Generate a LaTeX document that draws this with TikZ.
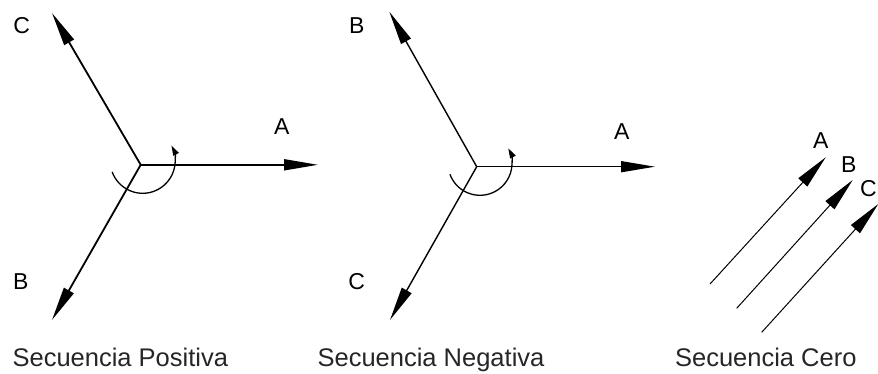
\documentclass[tikz,border=0pt]{standalone}
\usepackage{fontspec}
\setmainfont{Liberation Sans}
\usetikzlibrary{arrows.meta,calc}
\begin{document}
\begin{tikzpicture}[x=1pt,y=1pt,
  vec/.style={line width=1.8pt,-{Triangle[length=34pt,width=11pt]}},
  vecthin/.style={line width=1.4pt,-{Triangle[length=34pt,width=11pt]}},
  zvec/.style={line width=1pt,-{Triangle[length=34pt,width=12pt]}},
  rot/.style={line width=1.3pt,-{Triangle[length=10pt,width=6pt]}},
  lbl/.style={inner sep=0pt,font=\fontsize{23}{23}\selectfont},
  captxt/.style={inner sep=0pt,anchor=base,text=black!85,font=\fontsize{25.5}{26}\selectfont}]
\useasboundingbox (0,0) rectangle (878,-374);
\clip (0,0) rectangle (878,-374);
% Secuencia Positiva
\coordinate (O1) at (140.7,-164.8);
\coordinate (A1) at (318,-164.8);
\coordinate (C1) at (52,-13);
\coordinate (B1) at (52,-320);
\coordinate (R1) at ($(O1)+(2,4)+(200:32.5)$);
\draw[vec] (O1) -- (A1);
\draw[vec] (O1) -- (C1);
\draw[vec] (O1) -- (B1);
\draw[rot] (R1) arc[start angle=200,end angle=388,radius=32.5];
\node[lbl] (lA1) at (281.7,-126.7) {A};
\node[lbl] (lC1) at (21.7,-25.8) {C};
\node[lbl] (lB1) at (20.8,-281.7) {B};
\node[captxt] (t1) at (120.3,-366.7) {Secuencia Positiva};
% Secuencia Negativa
\coordinate (O2) at (476.7,-166.7);
\coordinate (A2) at (655,-166.7);
\coordinate (B2) at (389.3,-11.7);
\coordinate (C2) at (390,-320);
\coordinate (R2) at ($(O2)+(3.3,3.4)+(200:32)$);
\draw[vecthin] (O2) -- (A2);
\draw[vecthin] (O2) -- (B2);
\draw[vecthin] (O2) -- (C2);
\draw[rot] (R2) arc[start angle=200,end angle=388,radius=32];
\node[lbl] (lA2) at (621.7,-131.7) {A};
\node[lbl] (lB2) at (356.7,-25.8) {B};
\node[lbl] (lC2) at (356.7,-281.7) {C};
\node[captxt] (t2) at (431,-366.7) {Secuencia Negativa};
% Secuencia Cero
\coordinate (Za0) at (710,-284);
\coordinate (Za1) at (825.7,-157.3);
\coordinate (Zb0) at (736.7,-308.3);
\coordinate (Zb1) at (852.7,-180);
\coordinate (Zc0) at (761.7,-332.3);
\coordinate (Zc1) at (878.3,-204);
\draw[zvec] (Za0) -- (Za1);
\draw[zvec] (Zb0) -- (Zb1);
\draw[zvec] (Zc0) -- (Zc1);
\node[lbl] (lAz) at (820.8,-140.8) {A};
\node[lbl] (lBz) at (848.8,-164.2) {B};
\node[lbl] (lCz) at (868.5,-189) {C};
\node[captxt] (t3) at (765.8,-366.7) {Secuencia Cero};
\end{tikzpicture}
\end{document}
